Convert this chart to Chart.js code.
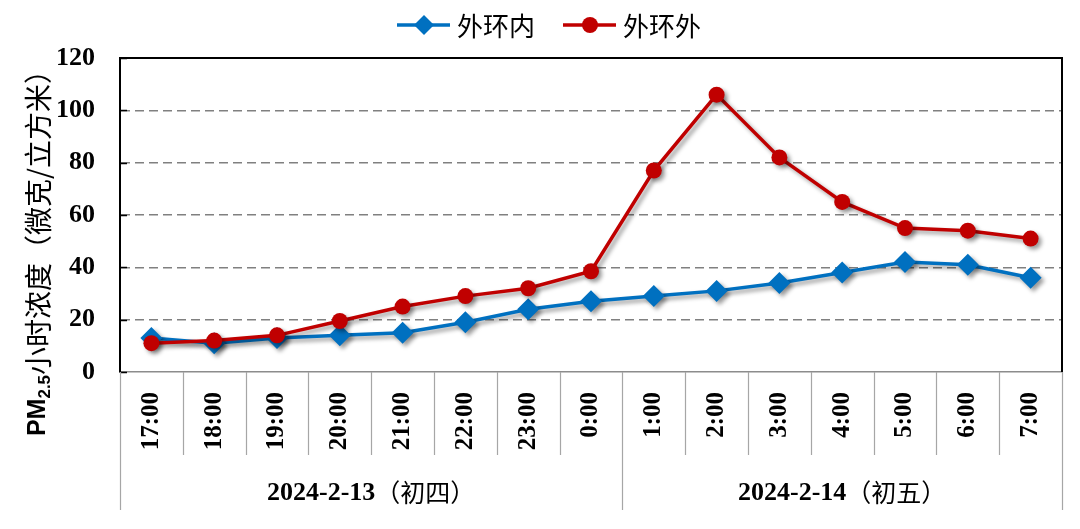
<!DOCTYPE html>
<html>
<head>
<meta charset="utf-8">
<script src="https://cdn.jsdelivr.net/npm/chart.js@4.4.1/dist/chart.umd.min.js"></script>
<style>
  body { margin: 0; background: #fff; }
  #wrap { width: 1080px; height: 529px; position: relative; }
</style>
</head>
<body>
<div id="wrap"><canvas id="pmChart"></canvas></div>
<script>
const hours = ['17:00', '18:00', '19:00', '20:00', '21:00', '22:00', '23:00', '0:00',
  '1:00', '2:00', '3:00', '4:00', '5:00', '6:00', '7:00'];
const inner = [13, 11, 13, 14, 15, 19, 24, 27, 29, 31, 34, 38, 42, 41, 36];
const outer = [11, 12, 14, 19.5, 25, 29, 32, 38.5, 77, 106, 82, 65, 55, 54, 51];
const yTicks = [0, 20, 40, 60, 80, 100, 120];
const days = [
  { date: '2024-2-13', lunar: '（初四）', from: 0, to: 7 },
  { date: '2024-2-14', lunar: '（初五）', from: 8, to: 14 }
];
const seriesNames = ['外环内', '外环外'];

const BLUE = '#0070C0';
const RED = '#C00000';
const CJK = '"Noto Sans CJK SC", "Noto Sans", sans-serif';
const NUM = '"Liberation Serif", "Times New Roman", serif';

// drop shadow for lines and markers
const shadowPlugin = {
  id: 'shadow',
  beforeDatasetsDraw(chart) {
    const ctx = chart.ctx;
    ctx.save();
    ctx.shadowColor = 'rgba(0,0,0,0.4)';
    ctx.shadowBlur = 4;
    ctx.shadowOffsetX = 3;
    ctx.shadowOffsetY = 3;
  },
  afterDatasetsDraw(chart) {
    chart.ctx.restore();
  }
};

// frame, inner ticks, category table, title, legend
const decorPlugin = {
  id: 'decor',
  beforeDatasetsDraw(chart) {
    const { ctx, chartArea: a, scales: { y } } = chart;
    ctx.save();
    // inward y ticks
    ctx.strokeStyle = '#000';
    ctx.lineWidth = 1.5;
    yTicks.forEach(v => {
      const py = Math.round(y.getPixelForValue(v)) + 0.5;
      ctx.beginPath();
      ctx.moveTo(a.left, py);
      ctx.lineTo(a.left + 7, py);
      ctx.stroke();
    });
    // top and right border
    ctx.lineWidth = 2;
    ctx.beginPath();
    ctx.moveTo(a.left, a.top);
    ctx.lineTo(a.right, a.top);
    ctx.lineTo(a.right, a.bottom);
    ctx.stroke();
    ctx.restore();
  },
  afterDraw(chart) {
    const { ctx, chartArea: a, scales: { x } } = chart;
    ctx.save();
    // category separators
    const bounds = [];
    for (let i = 0; i <= hours.length; i++) {
      let px;
      if (i === 0) px = a.left;
      else if (i === hours.length) px = a.right;
      else px = (x.getPixelForValue(i - 1) + x.getPixelForValue(i)) / 2;
      bounds.push(px);
    }
    const groupEdges = new Set();
    days.forEach(d => { groupEdges.add(d.from); groupEdges.add(d.to + 1); });
    ctx.strokeStyle = '#a6a6a6';
    ctx.lineWidth = 1.2;
    bounds.forEach((px, i) => {
      const xx = Math.round(px) + 0.5;
      ctx.beginPath();
      ctx.moveTo(xx, a.bottom);
      ctx.lineTo(xx, groupEdges.has(i) ? 510 : 455);
      ctx.stroke();
    });
    // date labels
    ctx.fillStyle = '#000';
    ctx.textBaseline = 'middle';
    days.forEach(d => {
      const cx = (bounds[d.from] + bounds[d.to + 1]) / 2;
      ctx.font = 'bold 26px ' + NUM;
      const w1 = ctx.measureText(d.date).width;
      ctx.font = '25px ' + CJK;
      const w2 = ctx.measureText(d.lunar).width;
      const sx = cx - (w1 + w2) / 2;
      ctx.font = 'bold 26px ' + NUM;
      ctx.textAlign = 'left';
      ctx.fillText(d.date, sx, 493);
      ctx.font = '25px ' + CJK;
      ctx.fillText(d.lunar, sx + w1, 492);
    });
    // y axis title
    ctx.save();
    ctx.translate(38, 246);
    ctx.rotate(-Math.PI / 2);
    const parts = [
      { t: 'PM', f: 'bold 25px "Liberation Sans", Arial, sans-serif', dy: 0 },
      { t: '2.5', f: 'bold 17px "Liberation Sans", Arial, sans-serif', dy: 7 },
      { t: '小时浓度（微克/立方米）', f: '28px ' + CJK, dy: 0 }
    ];
    let total = 0;
    parts.forEach(p => { ctx.font = p.f; p.w = ctx.measureText(p.t).width; total += p.w; });
    let tx = -total / 2;
    ctx.textAlign = 'left';
    ctx.textBaseline = 'middle';
    parts.forEach(p => {
      ctx.font = p.f;
      ctx.fillText(p.t, tx, p.dy);
      tx += p.w;
    });
    ctx.restore();
    // legend
    const legend = [
      { name: seriesNames[0], color: BLUE, style: 'diamond', x0: 397 },
      { name: seriesNames[1], color: RED, style: 'circle', x0: 563 }
    ];
    const ly = 25;
    legend.forEach(l => {
      ctx.strokeStyle = l.color;
      ctx.fillStyle = l.color;
      ctx.lineWidth = 3.5;
      ctx.beginPath();
      ctx.moveTo(l.x0, ly);
      ctx.lineTo(l.x0 + 53, ly);
      ctx.stroke();
      const cx = l.x0 + 27;
      ctx.beginPath();
      if (l.style === 'diamond') {
        ctx.moveTo(cx, ly - 10);
        ctx.lineTo(cx + 10, ly);
        ctx.lineTo(cx, ly + 10);
        ctx.lineTo(cx - 10, ly);
        ctx.closePath();
      } else {
        ctx.arc(cx, ly, 8, 0, Math.PI * 2);
      }
      ctx.fill();
      ctx.fillStyle = '#000';
      ctx.font = '26px ' + CJK;
      ctx.textAlign = 'left';
      ctx.textBaseline = 'middle';
      ctx.fillText(l.name, l.x0 + 60, ly + 1);
    });
    ctx.restore();
  }
};

new Chart(document.getElementById('pmChart'), {
  type: 'line',
  data: {
    labels: hours,
    datasets: [
      {
        label: seriesNames[0],
        data: inner,
        order: 1,
        borderColor: BLUE,
        backgroundColor: BLUE,
        borderWidth: 3.5,
        pointStyle: 'rectRot',
        pointRadius: 11,
        pointHoverRadius: 11,
        pointBorderWidth: 0,
        tension: 0
      },
      {
        label: seriesNames[1],
        data: outer,
        order: 0,
        borderColor: RED,
        backgroundColor: RED,
        borderWidth: 3.5,
        pointStyle: 'circle',
        pointRadius: 8,
        pointHoverRadius: 8,
        pointBorderWidth: 0,
        tension: 0
      }
    ]
  },
  options: {
    responsive: true,
    maintainAspectRatio: false,
    animation: false,
    layout: { padding: { top: 58, left: 0, right: 18, bottom: 0 } },
    plugins: {
      legend: { display: false },
      tooltip: { enabled: false }
    },
    scales: {
      x: {
        offset: true,
        afterFit(scale) { scale.height = 157; scale.paddingLeft = 0; scale.paddingRight = 0; },
        grid: { display: false, drawTicks: false, offset: true },
        border: { display: true, color: '#8c8c8c', width: 1.5 },
        ticks: {
          autoSkip: false,
          minRotation: 90,
          maxRotation: 90,
          padding: 20,
          color: '#000',
          font: { family: NUM, size: 25, weight: 'bold' }
        }
      },
      y: {
        min: 0,
        max: 120,
        afterFit(scale) { scale.width = 120; },
        afterBuildTicks(scale) { scale.ticks = yTicks.map(v => ({ value: v })); },
        grid: {
          drawTicks: false,
          color: ctx => (ctx.tick && (ctx.tick.value === 0 || ctx.tick.value === 120)) ? 'rgba(0,0,0,0)' : '#808080',
          lineWidth: 1.5
        },
        border: { display: true, color: '#000', width: 2, dash: [9, 5] },
        ticks: {
          padding: 25,
          color: '#000',
          font: { family: NUM, size: 26, weight: 'bold' }
        }
      }
    }
  },
  plugins: [decorPlugin, shadowPlugin]
});
</script>
</body>
</html>
